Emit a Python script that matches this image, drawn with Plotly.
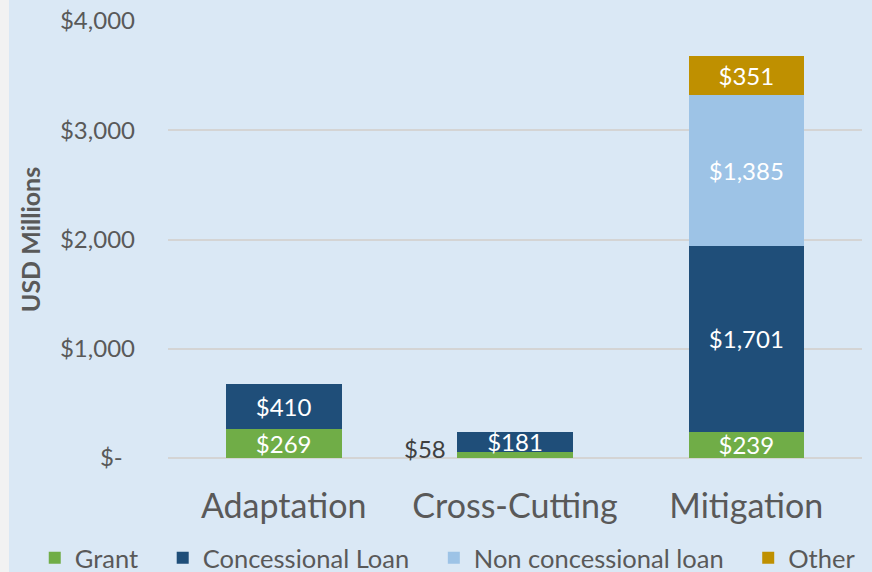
import plotly.graph_objects as go

categories = ["Adaptation", "Cross-Cutting", "Mitigation"]
grant = [269, 58, 239]
concessional = [410, 181, 1701]
non_concessional = [None, None, 1385]
other = [None, None, 351]

y_ticks = [0, 1000, 2000, 3000, 4000]
y_ticktext = ["$-  ", "$1,000", "$2,000", "$3,000", "$4,000"]

series = [
    ("Grant", grant, "#70AD47"),
    ("Concessional Loan", concessional, "#1F4E79"),
    ("Non concessional loan", non_concessional, "#9DC3E6"),
    ("Other", other, "#BF9000"),
]

font = "Lato, 'Open Sans', sans-serif"
grey = "#595959"
bg = "#DAE8F5"
label_size = 24

fig = go.Figure()
for i, (name, vals, color) in enumerate(series):
    text = ["" if v is None else f"${v:,}" for v in vals]
    pos = ["inside"] * len(vals)
    if name == "Grant":
        pos[1] = "none"  # small value is labelled beside the bar
    pad = "\u00a0\u00a0\u00a0" if i < len(series) - 1 else ""
    fig.add_trace(go.Bar(
        x=categories, y=vals, name=name + pad, marker_color=color,
        marker_line_width=0, width=0.5,
        text=text, textposition=pos, constraintext="none",
        insidetextanchor="middle",
        insidetextfont=dict(color="white", size=label_size, family=font),
    ))

fig.add_annotation(x=categories[1], y=grant[1], text=f"${grant[1]}",
                   showarrow=False, xshift=-90, yshift=3,
                   font=dict(size=label_size, color="#404040", family=font))

fig.add_shape(type="rect", xref="paper", yref="paper",
              x0=-168 / 694, x1=-159 / 694, y0=-2, y1=2,
              fillcolor="#F2F2F2", line_width=0, layer="below")

fig.update_layout(
    width=872, height=572,
    barmode="stack",
    paper_bgcolor=bg, plot_bgcolor=bg,
    margin=dict(l=168, r=10, t=21, b=114, autoexpand=False),
    font=dict(family=font, color=grey),
    showlegend=True,
    legend=dict(orientation="h", x=-0.192, xanchor="left", y=-0.1755, yanchor="top",
                font=dict(size=25.5, color=grey, family=font),
                itemwidth=30, traceorder="normal", bgcolor="rgba(0,0,0,0)"),
    xaxis=dict(range=[-0.5, 2.5], showgrid=False, showline=False, ticks="",
               tickfont=dict(size=34, color=grey, family=font),
               ticklabelstandoff=25),
    yaxis=dict(range=[0, 4000], tickvals=y_ticks, ticktext=y_ticktext,
               showgrid=True, gridcolor="#D4D4D4", gridwidth=1.5,
               zeroline=True, zerolinecolor="#D4D4D4", zerolinewidth=1.5,
               tickfont=dict(size=24, color=grey, family=font),
               ticklabelstandoff=32,
               title=dict(text="<b>USD Millions</b>", standoff=12,
                          font=dict(size=25, color=grey, family=font))),
)

fig.write_html("out.html", config={"displayModeBar": False},
               post_script="document.body.style.margin='0';"
                           "document.body.style.background='#F2F2F2';")
